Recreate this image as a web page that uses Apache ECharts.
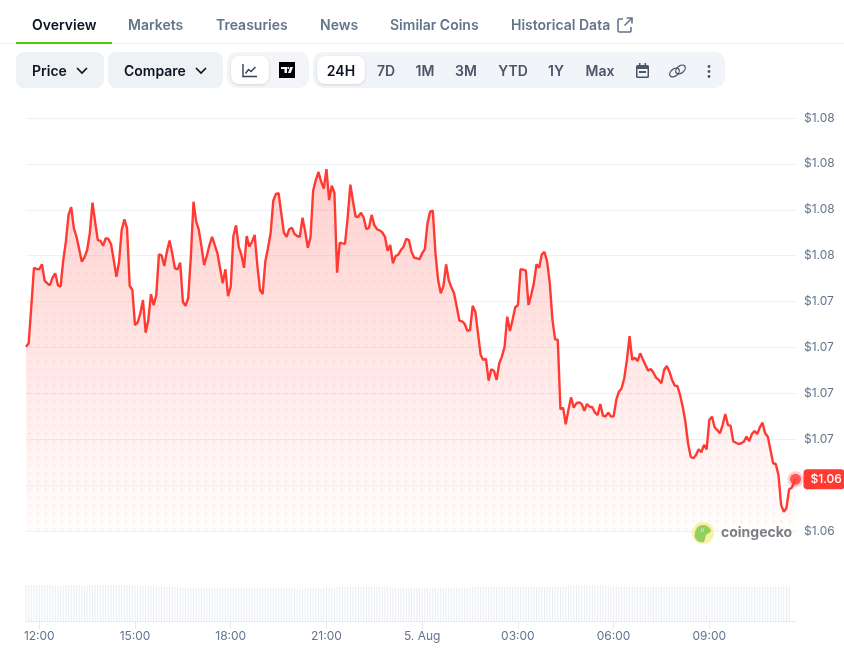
<!DOCTYPE html>
<html>
<head>
<meta charset="utf-8">
<title>Price chart</title>
<script src="https://cdn.jsdelivr.net/npm/echarts@6/dist/echarts.min.js"></script>
<style>
html,body{margin:0;padding:0;background:#fff;}
body{width:844px;height:650px;overflow:hidden;position:relative;font-family:Inter,"Noto Sans",sans-serif;}
#main{position:absolute;left:0;top:0;width:844px;height:650px;}
.ui{position:absolute;white-space:nowrap;}
.tab{top:16px;font-size:14px;line-height:18px;font-weight:600;color:#64748b;}
.box{background:#eff2f5;border-radius:8px;}
.btn{top:62px;font-size:14px;line-height:18px;font-weight:600;color:#0d1421;}
.rng{top:62px;font-size:14px;line-height:18px;font-weight:600;color:#4a5568;transform:translateX(-50%);}
.chip{background:#fff;border-radius:8px;box-shadow:0 1px 3px rgba(13,20,33,.14);}
svg{position:absolute;overflow:visible;}
</style>
</head>
<body>
<div id="main"></div>

<!-- tabs -->
<div class="ui" style="left:0;top:43px;width:844px;height:1px;background:#eff2f5"></div>
<div class="ui" style="left:16px;top:42px;width:96px;height:2px;background:#4bcc00"></div>
<div class="ui tab" style="left:32px;color:#0d1421">Overview</div>
<div class="ui tab" style="left:128px">Markets</div>
<div class="ui tab" style="left:216px">Treasuries</div>
<div class="ui tab" style="left:320px">News</div>
<div class="ui tab" style="left:390px">Similar Coins</div>
<div class="ui tab" style="left:511px">Historical Data</div>
<svg style="left:617px;top:17px" width="16" height="16" fill="none" stroke="#64748b" stroke-width="1.6"><path d="M6 2H2.5A1.5 1.5 0 0 0 1 3.5v10A1.5 1.5 0 0 0 2.5 15h10a1.5 1.5 0 0 0 1.5-1.5V10"/><path d="M9.500 1H15V6.500M15 1L7.500 8.500"/></svg>

<!-- toolbar -->
<div class="ui box" style="left:16px;top:52px;width:88px;height:36px"></div>
<div class="ui box" style="left:108px;top:52px;width:115px;height:36px"></div>
<div class="ui box" style="left:227px;top:52px;width:82px;height:36px;border-radius:10px;background:#f3f5f8"></div>
<div class="ui box" style="left:313px;top:52px;width:412px;height:36px;border-radius:10px;background:#f1f4f8"></div>
<div class="ui chip" style="left:231px;top:56px;width:38px;height:28px"></div>
<div class="ui chip" style="left:317px;top:56px;width:48px;height:28px"></div>
<div class="ui btn" style="left:32px">Price</div>
<svg style="left:76px;top:67px" width="12" height="8" fill="none" stroke="#0d1421" stroke-width="1.7"><path d="M1 1l5 5 5-5"/></svg>
<div class="ui btn" style="left:124px">Compare</div>
<svg style="left:195px;top:67px" width="12" height="8" fill="none" stroke="#0d1421" stroke-width="1.7"><path d="M1 1l5 5 5-5"/></svg>
<svg style="left:242px;top:64px" width="16" height="14" fill="none" stroke="#334155" stroke-width="1.4"><path d="M1 0v12.500h14"/><path d="M3.500 9.500l3-4 2.500 2 4.500-4.500"/></svg>
<svg style="left:279px;top:62px" width="16" height="16"><rect width="16" height="16" fill="#000"/><path d="M2 5h6v6H5.500V7H2zM9 11l2.200-6h2.800l-2.300 6z" fill="#fff"/><circle cx="9.300" cy="6" r="1.100" fill="#fff"/></svg>
<div class="ui rng" style="left:341px;color:#0d1421">24H</div>
<div class="ui rng" style="left:386px">7D</div>
<div class="ui rng" style="left:425px">1M</div>
<div class="ui rng" style="left:466px">3M</div>
<div class="ui rng" style="left:513px">YTD</div>
<div class="ui rng" style="left:556px">1Y</div>
<div class="ui rng" style="left:600px">Max</div>
<svg style="left:636px;top:63px" width="13" height="15" fill="#4a5568"><path d="M3 0h1.500v2h4V0H10v2h1.500A1.500 1.500 0 0 1 13 3.500v10a1.500 1.500 0 0 1-1.500 1.500h-10A1.500 1.500 0 0 1 0 13.500v-10A1.500 1.500 0 0 1 1.500 2H3zM1.500 6v7.500h10V6z"/><rect x="3" y="8" width="7" height="2"/></svg>
<svg style="left:669px;top:64px" width="17" height="14" fill="none" stroke="#4a5568" stroke-width="1.300"><ellipse cx="5.500" cy="8.500" rx="5.500" ry="3.500" transform="rotate(-40 5.500 8.500)"/><ellipse cx="11.500" cy="5.500" rx="5.500" ry="3.500" transform="rotate(-40 11.500 5.500)"/></svg>
<svg style="left:707px;top:65px" width="4" height="13" fill="#4a5568"><circle cx="2" cy="1.500" r="1.400"/><circle cx="2" cy="6.500" r="1.400"/><circle cx="2" cy="11.500" r="1.400"/></svg>

<!-- watermark -->
<svg style="left:692px;top:522px" width="22" height="22"><circle cx="11" cy="11" r="11" fill="#fbf0a6"/><path d="M3 16C2 9 5 3 11 3c4 0 6 2 8 5 1 2-3 3-5 5-1 3-1 5-2 7-4 1-7-1-9-4z" fill="#8ed15c"/><circle cx="10.500" cy="8" r="1.600" fill="#fff"/><circle cx="10.500" cy="8" r=".8" fill="#555"/></svg>
<div class="ui" style="left:721px;top:523px;font-size:14px;line-height:18px;font-weight:700;color:#7c7f85">coingecko</div>

<script type="text/javascript">
// 24h prices, one reading every 5 minutes from 4 Aug 11:35, last one is the live price
var prices = [
    1.07004,1.07023,1.07222,1.07434,1.07427,1.07426,1.07453,1.07364,1.07349,1.07339,1.0738,1.07404,1.07339,
    1.07331,1.07473,1.07576,1.07722,1.07764,1.07649,1.07603,1.07535,1.07467,1.07491,1.07531,1.07622,
    1.07789,1.07685,1.07585,1.0758,1.07554,1.07595,1.07591,1.07562,1.07476,1.07385,1.07467,1.0764,
    1.07698,1.07649,1.07335,1.07313,1.07122,1.07137,1.07186,1.07258,1.0708,1.0715,1.0729,1.0723,
    1.07286,1.07507,1.07502,1.07444,1.07522,1.07582,1.07513,1.07431,1.07426,1.07462,1.07249,1.07226,
    1.07268,1.07494,1.07794,1.07685,1.0764,1.07549,1.07449,1.07498,1.07558,1.07603,1.07558,1.07513,
    1.07431,1.07349,1.07426,1.0728,1.07331,1.07607,1.07665,1.07549,1.07504,1.07434,1.07607,1.07549,
    1.07576,1.07613,1.07449,1.07313,1.07291,1.07467,1.0754,1.07622,1.07799,1.07836,1.07841,
    1.07731,1.07625,1.07603,1.07644,1.07652,1.07618,1.07607,1.07603,1.07707,1.07631,1.07543,
    1.076,1.07854,1.07912,1.07956,1.07903,1.07865,1.07971,1.07803,1.07881,1.07843,1.07407,1.07571,
    1.07567,1.07565,1.07712,1.07887,1.07794,1.07712,1.07712,1.07734,1.07707,1.07645,1.07652,1.07722,
    1.07667,1.07644,1.07638,1.07627,1.07603,1.07527,1.07558,1.07458,1.07498,1.07505,1.07531,1.07549,
    1.07592,1.07585,1.07522,1.07489,1.07486,1.0748,1.07513,1.07536,1.07676,1.0774,1.07745,1.07513,
    1.07367,1.07295,1.07335,1.07453,1.07367,1.07326,1.07295,1.07222,1.07146,1.07142,1.07128,1.0709,
    1.07095,1.07227,1.07195,1.07077,1.06959,1.06932,1.06937,1.06819,1.06881,1.06873,1.06823,1.06914,
    1.0695,1.07004,1.07168,1.0709,1.0715,1.07219,1.0723,1.07426,1.07424,1.07418,1.07231,1.07286,
    1.07349,1.07453,1.07434,1.07507,1.0752,
    1.07467,1.07349,1.0715,1.07044,1.07042,1.06663,1.06672,1.06581,1.06659,1.06728,1.06672,1.06696,
    1.06701,1.06692,1.06655,1.06692,1.06677,1.06674,1.06645,1.06632,1.06692,1.06628,1.06625,1.06645,
    1.06623,1.06625,1.06714,1.06759,1.06777,1.06832,1.06932,1.07062,1.06932,1.06944,1.06926,1.06968,
    1.06935,1.06904,1.06873,1.06883,1.06862,1.06835,1.06823,1.06805,1.06877,1.06899,1.06868,1.06823,
    1.06792,1.0679,1.06741,1.06677,1.06595,1.06478,1.06405,1.06396,1.06414,1.06445,1.06429,1.06469,
    1.06445,1.06605,1.06623,1.06565,1.0655,1.06532,1.06577,1.06637,1.06577,1.06574,1.06489,1.06481,
    1.06474,1.06478,1.06487,1.06514,1.0649,1.06528,1.06545,1.06528,1.06565,1.0659,1.06532,1.06514,
    1.06441,1.06369,1.06365,1.06305,1.06142,1.06105,1.06124,1.06227,1.06236,1.06282
];
// volume bars, same 5 minute readings (the scale is not printed in the picture)
var volumes = [
    36,36,36,36,36,36,36,36,36,36,36,35,35,35,36,36,36,36,36,36,36,35,35,35,
    36,36,36,36,36,36,36,36,36,36,36,36,36,36,36,36,36,35,35,35,35,35,35,35,
    35,34,34,34,34,34,34,34,34,34,34,33,33,33,33,33,34,33,33,33,33,33,33,33,
    33,33,33,33,33,33,33,33,33,33,33,33,33,33,33,33,33,33,32.5,32.5,33,33,33,33,
    33,33,33,33,33,33,33,31.5,32,33,33,33,33,33,33,32.5,33,34,34,33,33,34,34,34,
    34,34,34,34,34,34,34,34,34,34,34,34,34,34,34,34,34,33.5,33.5,33.5,33,33,33,33,
    33,33,33,33,33,33,33,33,33,33,33,33,33,33,33,33,33.5,33.5,33.5,33.5,33.5,33.5,33.5,33.5,
    34,34,34,34,34,34,34,34,34,34,34,34,34,34,34,34,34,34,34,34,34,34,34,34,
    34,34,34,34,34,34,34,34,34,34,34,34,35.5,35.5,35.5,35.5,35.5,35.5,35.5,35.5,35.5,35.5,35.5,35.5,
    35.5,35.5,35.5,35.5,34,34,34,34,34,34,34,34,34,34,34,34,34,34,34,34,34,34,34,34,
    34,34,34,34,34,34,34,34,34,34,34,34,34,34,34,34,34,34,34,34,34,34,34,34,
    34,34,34,34,34,34,34,34,34,34,34,34,34,34,34,34,34,34,34,34,34,34,34,34
];
var yTickLabels = ['$1.06','$1.06','$1.07','$1.07','$1.07','$1.07','$1.08','$1.08','$1.08','$1.08'];
var xTickLabels = ['12:00','15:00','18:00','21:00','5. Aug','03:00','06:00','09:00'];
var xTickMinutes = [25,205,385,565,745,925,1105,1285]; // minutes after 11:35
var liveLabel = '$1.06';

var lastMinute = 1447;
var endMinute = 1448;

var times = prices.map(function(p,i){
    return i < prices.length-1 ? i*5 : lastMinute;
});
var priceData = prices.map(function(p,i){ return [times[i],p]; });
var volumeData = volumes.map(function(v,i){ return [times[i],v]; });

// dotted texture on the area, 8px tile
var tile = document.createElement('canvas');
tile.width = 8; tile.height = 8;
var ctx = tile.getContext('2d');
ctx.fillStyle = 'rgba(255,58,51,0.06)';
ctx.beginPath(); ctx.arc(5.5,1.5,1.5,0,Math.PI*2); ctx.fill();

var myChart = echarts.init(document.getElementById('main'));
var option = {
    animation: false,
    textStyle: { fontFamily: 'Inter' },
    grid: [
        { left: 26, right: 48, top: 118, height: 413 },
        { left: 26, right: 48, top: 585, height: 36 }
    ],
    xAxis: [
        { type: 'value', gridIndex: 0, min: 0, max: endMinute, show: false },
        {
            type: 'value', gridIndex: 1, min: 0, max: endMinute,
            splitLine: { show: false },
            axisLine: { lineStyle: { color: '#e6ebf1', width: 1 } },
            axisTick: { customValues: xTickMinutes, length: 8, lineStyle: { color: '#e6ebf1' } },
            axisLabel: {
                customValues: xTickMinutes, margin: 9, color: '#64748b', fontSize: 12, fontFamily: 'Inter',
                formatter: function(v){ return xTickLabels[xTickMinutes.indexOf(v)]; }
            }
        }
    ],
    yAxis: [
        {
            type: 'value', gridIndex: 0, position: 'right', min: 1.06, max: 1.0825, interval: 0.0025,
            axisLine: { show: false }, axisTick: { show: false },
            splitLine: { lineStyle: { color: '#eff2f5', width: 1 } },
            axisLabel: {
                margin: 8, color: '#64748b', fontSize: 12, fontFamily: 'Inter',
                formatter: function(v,i){ return yTickLabels[i]; }
            }
        },
        { type: 'value', gridIndex: 1, min: 0, max: 36, show: false }
    ],
    series: [
        {
            type: 'line', data: priceData, symbol: 'none', silent: true,
            lineStyle: { opacity: 0 },
            areaStyle: { origin: 'start', color: { image: tile, repeat: 'repeat' }, opacity: 1 }
        },
        {
            type: 'line', data: priceData, symbol: 'none', silent: true,
            lineStyle: { color: '#ff3a33', width: 2.4 },
            areaStyle: {
                origin: 'start',
                color: new echarts.graphic.LinearGradient(0,0,0,1,[
                    { offset: 0, color: 'rgba(255,58,51,0.33)' },
                    { offset: 0.5, color: 'rgba(255,58,51,0.18)' },
                    { offset: 1, color: 'rgba(255,58,51,0.01)' }
                ])
            },
            endLabel: {
                show: true, distance: 8, formatter: liveLabel,
                color: '#fff', fontSize: 12, fontWeight: 500, fontFamily: 'Inter',
                backgroundColor: '#ff3a33', borderRadius: 4, padding: [5,3,3,7]
            },
            markPoint: {
                silent: true, symbol: 'circle', symbolSize: 16, animation: false,
                itemStyle: { color: 'rgba(255,58,51,0.25)' }, label: { show: false },
                data: [{ coord: priceData[priceData.length-1] }]
            }
        },
        {
            type: 'scatter', data: [priceData[priceData.length-1]], symbol: 'circle', symbolSize: 11,
            itemStyle: { color: '#ff3a33' }, silent: true, z: 5
        },
        {
            type: 'bar', xAxisIndex: 1, yAxisIndex: 1, data: volumeData, barWidth: 1,
            itemStyle: { color: '#e8ecf1' }, silent: true
        }
    ]
};
myChart.setOption(option);
</script>
</body>
</html>
